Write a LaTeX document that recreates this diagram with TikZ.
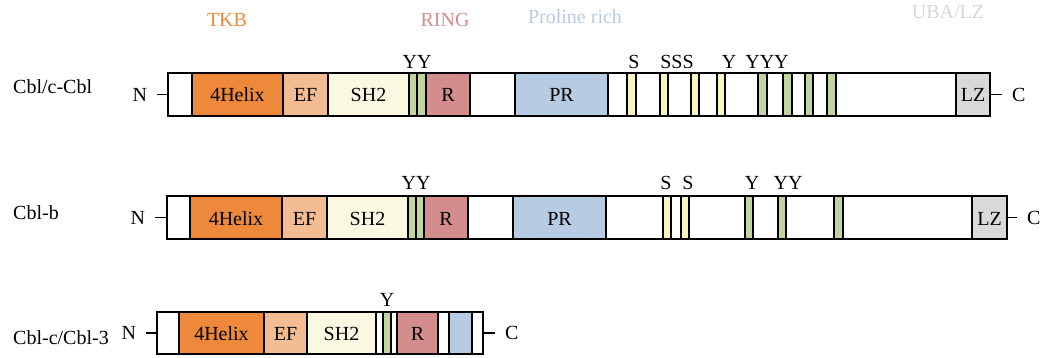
\documentclass[tikz,border=0pt]{standalone}
\usepackage{fontspec}
\setmainfont{Liberation Serif}
\usetikzlibrary{
  positioning % For N and C ends
}

% Domain colours
\definecolor{helix}{RGB}{238,137,59}
\definecolor{efhand}{RGB}{243,188,146}
\definecolor{shtwo}{RGB}{250,248,225}
\definecolor{tyr}{RGB}{194,212,160}
\definecolor{ser}{RGB}{248,245,192}
\definecolor{ring}{RGB}{212,141,141}
\definecolor{pro}{RGB}{183,203,227}
\definecolor{lz}{RGB}{217,217,217}
\definecolor{lzhead}{RGB}{214,214,214}

\begin{document}
\begin{tikzpicture}[
      x=1pt, y=-1pt, % pixel coordinates, y downwards
      font=\fontsize{20}{24}\selectfont,
      protein/.style={draw, fill=white, line width=1.3pt, inner sep=0pt, outer sep=0pt},
      dombox/.style={draw, line width=1.3pt, inner sep=0pt, outer sep=0pt,
        text height=15pt, text depth=0pt},
      term/.style={inner sep=0pt, outer xsep=10pt},
      site/.style={inner sep=0pt, anchor=base},
      header/.style={inner sep=0pt, anchor=base},
      rowlabel/.style={inner sep=0pt, anchor=base west},
      tail/.style={line width=1.3pt},
    ]
    \useasboundingbox (0,0) rectangle (1040,358);

    % Überschriften
    \node[header, text=helix] (tkb) at (227,26.7) {TKB};
    \node[header, text=ring] (ringhead) at (445,26.7) {RING};
    \node[header, text=pro] (prohead) at (575,23.3) {Proline rich};
    \node[header, text=lzhead] (lzhead) at (948,18.3) {UBA/LZ};

    % Cbl/c-Cbl
    \node[rowlabel] (cname) at (13,94) {Cbl/c-Cbl};
    \node[protein, minimum width=822pt, minimum height=43pt] (cbl) at (579,94.5) {};
    \foreach \a/\b/\c/\t [count=\k] in {192/283/helix/4Helix, 283/328/efhand/EF,
      328/409/shtwo/SH2, 409/417/tyr/{}, 417/426/tyr/{}, 426/470/ring/R,
      515/608/pro/PR, 627/636/ser/{}, 660/668/ser/{}, 691/699/ser/{},
      717/725/ser/{}, 758/767/tyr/{}, 783/792/tyr/{}, 805/813/tyr/{},
      827/836/tyr/{}, 956/990/lz/LZ}
    \node[dombox, fill=\c, minimum width=(\b-\a)*1pt, minimum height=43pt]
      (cbl-\k) at ({(\a+\b)/2},94.5) {\t};
    \foreach \x/\t [count=\k] in {417/YY, 634/S, 677/SSS, 729/Y, 767/YYY}
    \node[site] (cblsite-\k) at (\x,69) {\t};
    \node[term, left=11pt of cbl] (cblN) {N};
    \node[term, right=12pt of cbl] (cblC) {C};
    \draw[tail] (cblN) -- (cbl);
    \draw[tail] (cbl) -- (cblC);

    % Cbl-b
    \node[rowlabel] (bname) at (13,219.3) {Cbl-b};
    \node[protein, minimum width=840pt, minimum height=43pt] (cblb) at (587,217.5) {};
    \foreach \a/\b/\c/\t [count=\k] in {190/282/helix/4Helix, 282/327/efhand/EF,
      327/408/shtwo/SH2, 408/416/tyr/{}, 416/424/tyr/{}, 424/468/ring/R,
      513/606/pro/PR, 663/671/ser/{}, 681/689/ser/{}, 745/753/tyr/{},
      778/786/tyr/{}, 834/843/tyr/{}, 972/1007/lz/LZ}
    \node[dombox, fill=\c, minimum width=(\b-\a)*1pt, minimum height=43pt]
      (cblb-\k) at ({(\a+\b)/2},217.5) {\t};
    \foreach \x/\t [count=\k] in {416/YY, 666/S, 688/S, 752/Y, 788/YY}
    \node[site] (cblbsite-\k) at (\x,189.5) {\t};
    \node[term, left=12pt of cblb] (cblbN) {N};
    \node[term, right=10pt of cblb] (cblbC) {C};
    \draw[tail] (cblbN) -- (cblb);
    \draw[tail] (cblb) -- (cblbC);

    % Cbl-c/Cbl-3
    \node[rowlabel] (cname3) at (13,344) {Cbl-c/Cbl-3};
    \node[protein, minimum width=326pt, minimum height=42pt] (cblc) at (320,333) {};
    \foreach \a/\b/\c/\t [count=\k] in {179/264/helix/4Helix, 264/307/efhand/EF,
      307/376/shtwo/SH2, 383/391/tyr/{}, 397/438/ring/R, 449/472/pro/{}}
    \node[dombox, fill=\c, minimum width=(\b-\a)*1pt, minimum height=42pt]
      (cblc-\k) at ({(\a+\b)/2},333) {\t};
    \node[site] (cblcsite) at (387,306.5) {Y};
    \node[term, left=11pt of cblc] (cblcN) {N};
    \node[term, right=12pt of cblc] (cblcC) {C};
    \draw[tail] (cblcN) -- (cblc);
    \draw[tail] (cblc) -- (cblcC);

  \end{tikzpicture}
\end{document}
